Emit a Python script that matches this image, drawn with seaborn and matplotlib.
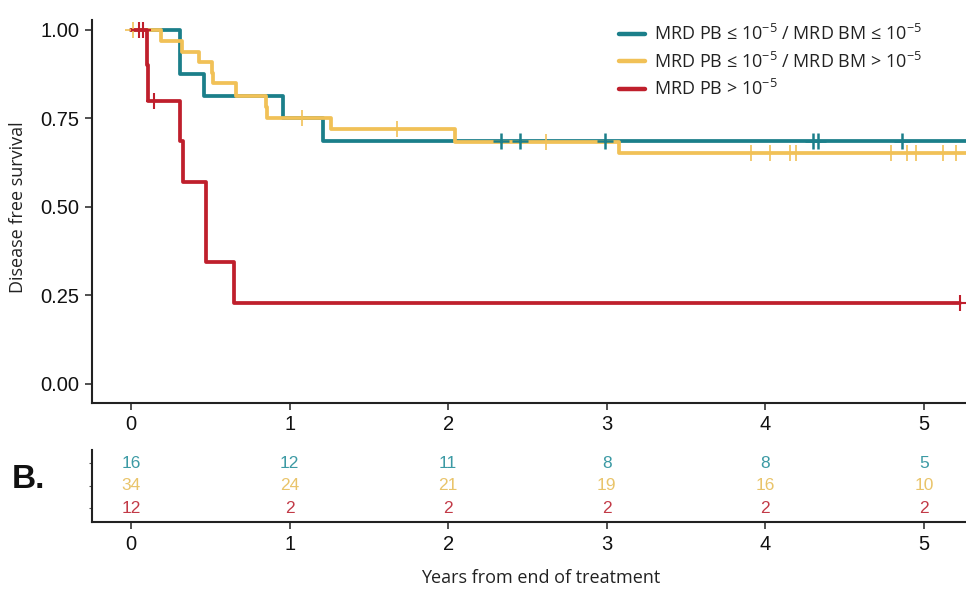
import numpy as np
import pandas as pd
import matplotlib
matplotlib.use("Agg")
import matplotlib.pyplot as plt
import seaborn as sns

# ---------------- data ----------------
groups = ["MRD PB \u2264 10$^{-5}$ / MRD BM \u2264 10$^{-5}$",
          "MRD PB \u2264 10$^{-5}$ / MRD BM > 10$^{-5}$",
          "MRD PB > 10$^{-5}$"]
colors = ["#1B7F8A", "#F1C157", "#BF1F2C"]
table_colors = ["#3C9AA4", "#E9C46A", "#C23A47"]

teal_times = [0.31, 0.312, 0.46, 0.96, 1.21]
teal_surv = [0.9375, 0.875, 0.8125, 0.75, 0.6875]
teal_censor = [2.33, 2.45, 2.99, 4.30, 4.33, 4.86]
teal_end = 5.3

yellow_times = [0.19, 0.32, 0.43, 0.51, 0.52, 0.66, 0.85, 0.86, 1.26, 2.04, 3.08]
yellow_surv = [0.970, 0.939, 0.910, 0.878, 0.849, 0.813, 0.783, 0.752, 0.720, 0.684, 0.651]
yellow_censor = [0.01, 1.08, 1.68, 2.615, 3.91, 4.03, 4.155, 4.19, 4.79, 4.89, 4.95, 5.12, 5.20]
yellow_end = 5.3

red_times = [0.10, 0.105, 0.31, 0.33, 0.47, 0.475, 0.65]
red_surv = [0.9, 0.8, 0.686, 0.571, 0.457, 0.343, 0.229]
red_censor = [0.05, 0.075, 0.145, 5.23]
red_end = 5.23

risk_times = [0, 1, 2, 3, 4, 5]
risk_teal = [16, 12, 11, 8, 8, 5]
risk_yellow = [34, 24, 21, 19, 16, 10]
risk_red = [12, 2, 2, 2, 2, 2]

y_ticks = [0.0, 0.25, 0.5, 0.75, 1.0]
y_ticklabels = ["0.00", "0.25", "0.50", "0.75", "1.00"]
x_ticks = [0, 1, 2, 3, 4, 5]

# ---------------- build frames ----------------
series = [(teal_times, teal_surv, teal_censor, teal_end),
          (yellow_times, yellow_surv, yellow_censor, yellow_end),
          (red_times, red_surv, red_censor, red_end)]

curve_rows, cens_rows = [], []
for g, (t, s, c, end) in zip(groups, series):
    tt = [0.0] + list(t) + [end]
    ss = [1.0] + list(s) + [s[-1]]
    for a, b in zip(tt, ss):
        curve_rows.append({"time": a, "surv": b, "group": g})
    t_arr = np.array(t)
    s_arr = np.array(s)
    for ct in c:
        idx = np.searchsorted(t_arr, ct, side="right") - 1
        val = 1.0 if idx < 0 else s_arr[idx]
        cens_rows.append({"time": ct, "surv": val, "group": g})
curves = pd.DataFrame(curve_rows)
cens = pd.DataFrame(cens_rows)
palette = dict(zip(groups, colors))
cens_lw = dict(zip(groups, [1.8, 1.2, 1.5]))

# ---------------- style ----------------
sns.set_style("white")
plt.rcParams["font.family"] = ["Liberation Sans", "DejaVu Sans"]
plt.rcParams["mathtext.fontset"] = "custom"
plt.rcParams["mathtext.rm"] = "Open Sans"
plt.rcParams["mathtext.it"] = "Open Sans:italic"
plt.rcParams["mathtext.bf"] = "Open Sans:bold"

W, H = 966, 590
fig = plt.figure(figsize=(W / 100, H / 100), dpi=100)

def fx(px):
    return px / W

def fy(py):
    return 1 - py / H

ax = fig.add_axes([fx(92), fy(403), 1 - fx(92), fy(20) - fy(403)])
sns.lineplot(data=curves, x="time", y="surv", hue="group", palette=palette,
             hue_order=groups, estimator=None, sort=False, drawstyle="steps-post",
             linewidth=2.7, ax=ax, legend=True)
for g in groups:
    sub = cens[cens["group"] == g]
    sns.scatterplot(data=sub, x="time", y="surv", color=palette[g], marker="+",
                    s=120, linewidth=cens_lw[g], ax=ax, legend=False, zorder=3)

ax.set_xlim(-0.246, 5.265)
ax.set_ylim(-0.054, 1.028)
ax.set_yticks(y_ticks)
ax.set_yticklabels(y_ticklabels)
ax.set_xticks(x_ticks)
ax.set_xticklabels([str(v) for v in x_ticks])
ax.tick_params(axis="both", labelsize=14.5, length=5, width=1.2, color="#333333",
               labelcolor="#111111", direction="out", pad=4,
               left=True, bottom=True)
for sp in ["top", "right"]:
    ax.spines[sp].set_visible(False)
for sp in ["left", "bottom"]:
    ax.spines[sp].set_linewidth(1.5)
    ax.spines[sp].set_color("#222222")
ax.set_xlabel("")
ax.set_ylabel("Disease free survival", fontsize=13, family=["Open Sans", "DejaVu Sans"],
              color="#222222")
ax.yaxis.set_label_coords(fx(27), fy(207), transform=fig.transFigure)

leg = ax.legend(handles=ax.get_legend_handles_labels()[0][:3], labels=groups,
                loc="upper left", bbox_to_anchor=(fx(603), fy(8)),
                bbox_transform=fig.transFigure, frameon=False,
                handlelength=1.45, handletextpad=0.45, labelspacing=0.4,
                prop={"family": ["Open Sans", "DejaVu Sans"], "size": 13})
for h in leg.get_lines():
    h.set_linewidth(3.2)
for txt in leg.get_texts():
    txt.set_color("#222222")

# ---------------- risk table ----------------
ax2 = fig.add_axes([fx(92), fy(522), 1 - fx(92), fy(450) - fy(522)])
ax2.set_xlim(-0.246, 5.265)
ax2.set_ylim(0.38, 3.58)
rows = [(3, risk_teal, table_colors[0]), (2, risk_yellow, table_colors[1]),
        (1, risk_red, table_colors[2])]
for yrow, vals, col in rows:
    for xt, v in zip(risk_times, vals):
        ax2.text(xt, yrow, str(v), ha="center", va="center", color=col, fontsize=12.5,
                 family=["Liberation Sans Narrow", "Liberation Sans"])
ax2.set_xticks(x_ticks)
ax2.set_xticklabels([str(v) for v in x_ticks])
ax2.set_yticks([1, 2, 3])
ax2.set_yticklabels([])
ax2.tick_params(axis="x", labelsize=14.5, length=5, width=1.2, color="#333333",
                labelcolor="#111111", pad=4, bottom=True)
ax2.tick_params(axis="y", length=2, width=0.8, color="#555555", left=True)
for sp in ["top", "right"]:
    ax2.spines[sp].set_visible(False)
for sp in ["left", "bottom"]:
    ax2.spines[sp].set_linewidth(1.5)
    ax2.spines[sp].set_color("#222222")
ax2.set_xlabel("Years from end of treatment", fontsize=13,
               family=["Open Sans", "DejaVu Sans"], color="#222222")
ax2.xaxis.set_label_coords(fx(541), fy(578), transform=fig.transFigure)
ax2.xaxis.label.set_va("center")

fig.text(fx(12), fy(480), "B.", fontsize=24, fontweight="bold", ha="left", va="center",
         color="#111111")

fig.savefig("out.png", dpi=100)
